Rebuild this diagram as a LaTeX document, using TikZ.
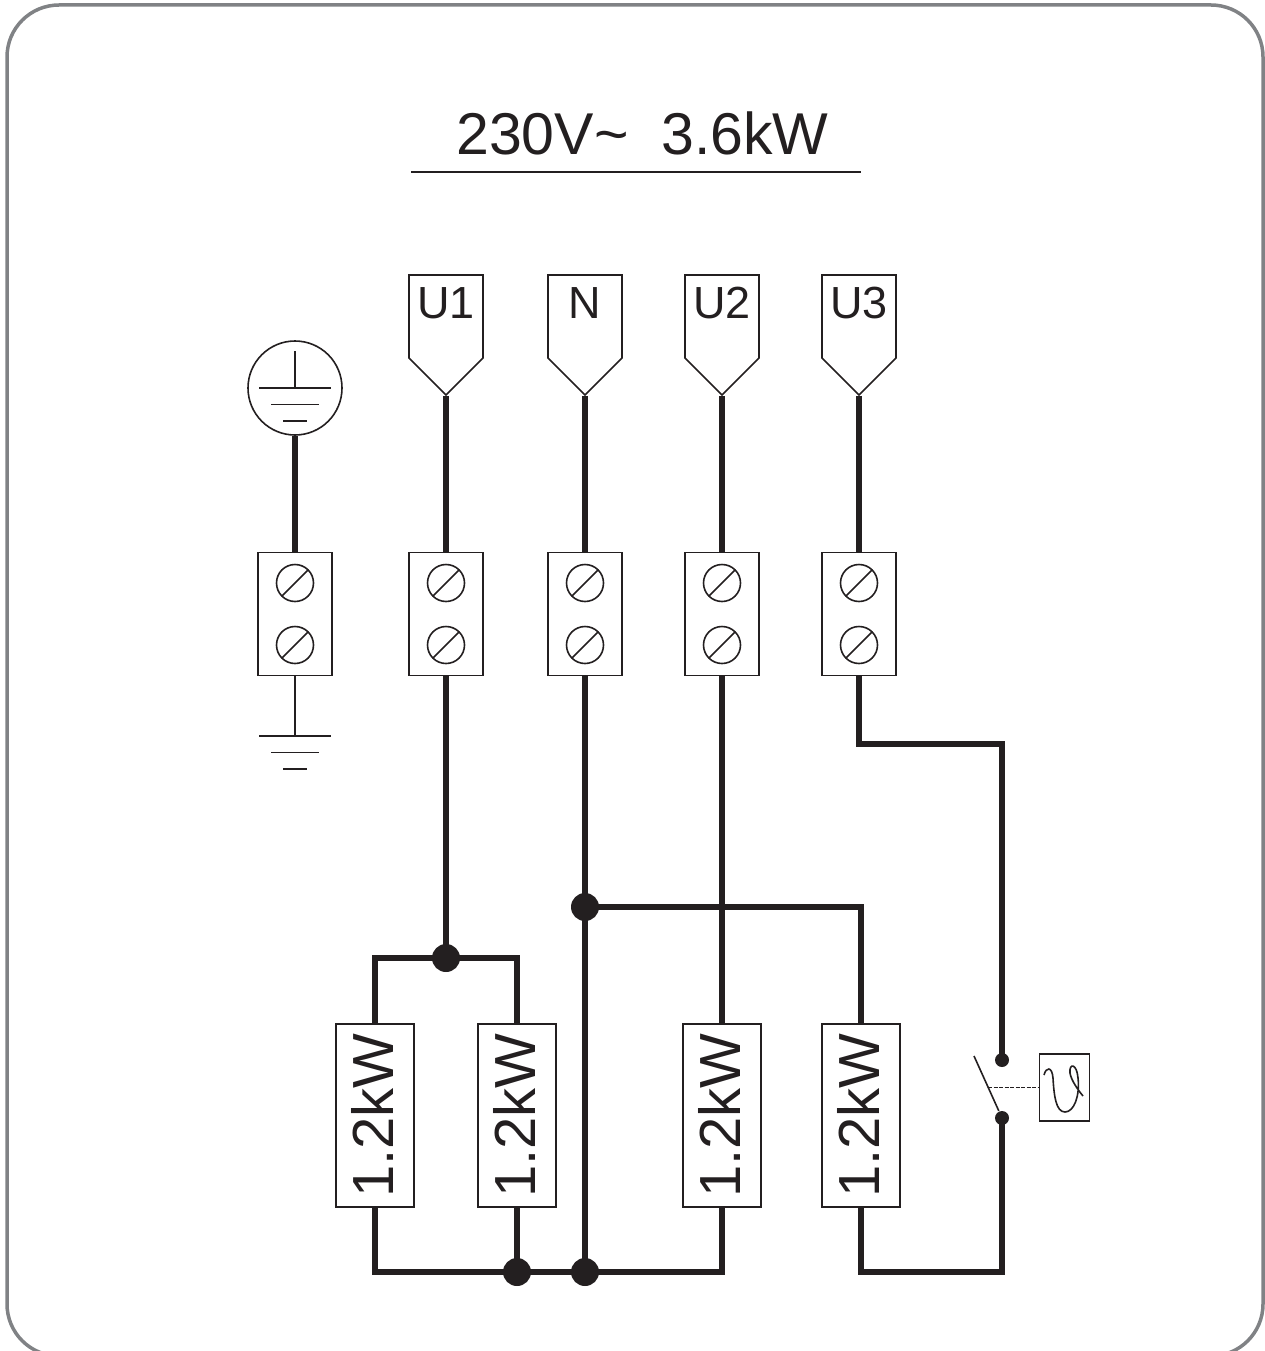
\documentclass[tikz,border=0pt]{standalone}
\usepackage{fontspec}
\setmainfont{Liberation Sans}
\usetikzlibrary{shapes.symbols}
\definecolor{ink}{HTML}{231F20}
\definecolor{frame}{HTML}{808285}
\newcommand{\heaterpower}{\rotatebox{90}{\rule[-6pt]{0pt}{1pt}1.2kW}}

\begin{document}
\begin{tikzpicture}[x=1pt, y=-1pt, color=ink, line width=1.6pt,
    wire/.style={line width=5.8pt, line join=miter},
    dot/.style={circle, fill=ink, inner sep=0pt, minimum size=28pt},
    contact/.style={circle, fill=ink, inner sep=0pt, minimum size=14pt},
    tag/.style={signal, signal to=south, signal from=nowhere, signal pointer angle=90, draw,
        inner sep=0pt, minimum width=74pt, minimum height=83pt},
    tagtext/.style={font=\fontsize{45}{45}\selectfont, inner sep=0pt, yshift=13pt},
    heater/.style={rectangle, draw, fill=white, inner sep=0pt, minimum width=78pt, minimum height=183pt,
        font=\fontsize{58}{58}\selectfont},
    screw/.style={circle, draw, inner sep=0pt, minimum size=37pt,
        path picture={\draw (path picture bounding box.south west) -- (path picture bounding box.north east);}},
    terminal/.pic={
        \node[rectangle, draw, inner sep=0pt, minimum width=74pt, minimum height=123pt] (box) at (0,0) {};
        \node[screw] (upper) at (0,-31) {};
        \node[screw] (lower) at (0,31) {};
    },
    earthlines/.pic={
        \draw (-36,0) -- (36,0);
        \draw (-24,16.5) -- (24,16.5);
        \draw (-12,33) -- (12,33);
    }]
    \useasboundingbox (0,0) rectangle (1265,1351);
    \draw[frame, line width=3.5pt, rounded corners=52pt] (7,5) rectangle (1263,1356);

    \node[font=\fontsize{59}{59}\selectfont] (title) at (642.5,133) {230V\char`\~\ \ 3.6kW};
    \coordinate (ruleleft) at (411,172);
    \coordinate (ruleright) at (861,172);
    \draw (ruleleft) -- (ruleright);

    \node[tag, label={[tagtext]center:U1}] (u1) at (446,316.5) {};
    \node[tag, label={[tagtext]center:N}] (n) at (585,316.5) {};
    \node[tag, label={[tagtext]center:U2}] (u2) at (722,316.5) {};
    \node[tag, label={[tagtext]center:U3}] (u3) at (859,316.5) {};
    \node[circle, draw, inner sep=0pt, minimum size=94pt] (pe) at (295,388) {};
    \coordinate (pestem) at (295,351);
    \draw (pestem) -- (pe.center);
    \pic at (295,388) {earthlines};

    \pic (te) at (295,614) {terminal};
    \pic (tu1) at (446,614) {terminal};
    \pic (tn) at (585,614) {terminal};
    \pic (tu2) at (722,614) {terminal};
    \pic (tu3) at (859,614) {terminal};

    \coordinate (gnd) at (295,736);
    \draw (tebox.south) -- (gnd);
    \pic at (gnd) {earthlines};

    \node[heater] (h1) at (375,1115.5) {\heaterpower};
    \node[heater] (h2) at (517,1115.5) {\heaterpower};
    \node[heater] (h3) at (722,1115.5) {\heaterpower};
    \node[heater] (h4) at (861,1115.5) {\heaterpower};

    \node[dot] (j1) at (446,958) {};
    \node[dot] (j2) at (585,907) {};
    \node[dot] (j3) at (517,1272) {};
    \node[dot] (j4) at (585,1272) {};
    \node[contact] (c1) at (1002,1060) {};
    \node[contact] (c2) at (1002,1118) {};
    \coordinate (corner1) at (1002,744);
    \coordinate (corner2) at (1002,1272);

    \draw[wire] (pe.south) -- (tebox.north);
    \draw[wire] (u1.south) -- (tu1box.north);
    \draw[wire] (n.south) -- (tnbox.north);
    \draw[wire] (u2.south) -- (tu2box.north);
    \draw[wire] (u3.south) -- (tu3box.north);

    \draw[wire] (tu1box.south) -- (j1.center);
    \draw[wire] (h1.north) |- (j1.center) -| (h2.north);
    \draw[wire] (tnbox.south) -- (j4.center);
    \draw[wire] (j2.center) -| (h4.north);
    \draw[wire] (tu2box.south) -- (h3.north);
    \draw[wire] (tu3box.south) |- (corner1) -- (c1.center);
    \draw[wire] (h1.south) |- (j3.center) -- (j4.center) -| (h3.south);
    \draw[wire] (h2.south) -- (j3.center);
    \draw[wire] (h4.south) |- (corner2) -- (c2.center);

    \node[rectangle, draw, inner sep=0pt, minimum width=50pt, minimum height=67pt] (stat) at (1064.5,1087.5) {};
    \coordinate (bladeend) at (974,1056);
    \coordinate (bladelink) at (988,1087.5);
    \draw (bladeend) -- (c2);
    \draw[dashed, dash pattern=on 4pt off 1.5pt] (bladelink) -- (stat.west);
    \draw (1044,1075) .. controls (1046,1067) and (1052,1066) .. (1053,1078)
        .. controls (1054,1096) and (1056,1112) .. (1065,1112)
        .. controls (1074,1112) and (1080,1096) .. (1078,1078)
        .. controls (1077,1064) and (1069,1062) .. (1070,1073)
        .. controls (1071,1080) and (1078,1090) .. (1083,1096);
\end{tikzpicture}
\end{document}
